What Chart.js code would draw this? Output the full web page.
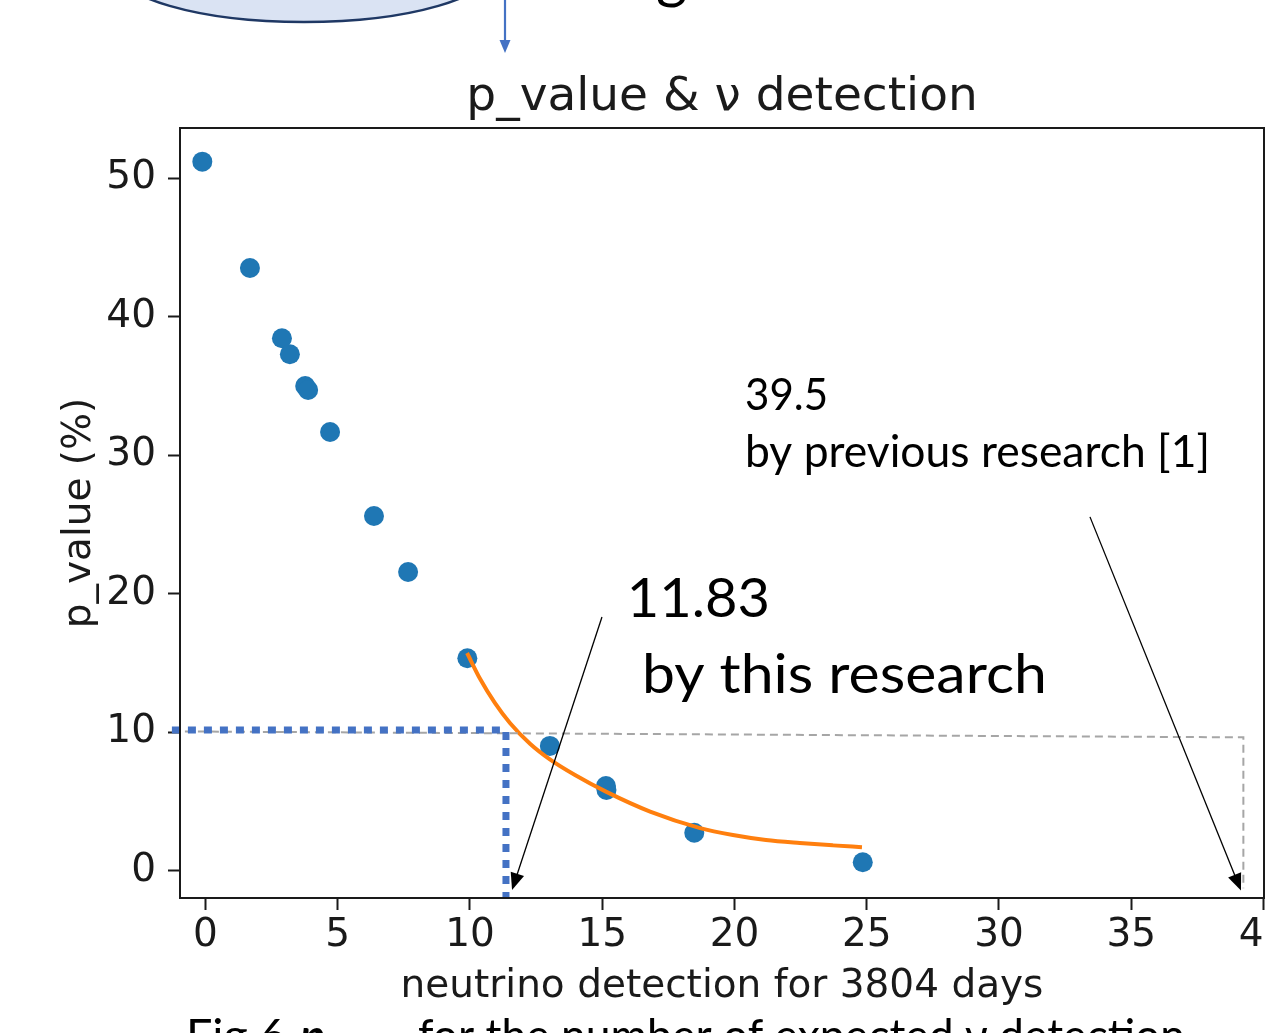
<!DOCTYPE html>
<html>
<head>
<meta charset="utf-8">
<script src="https://cdn.jsdelivr.net/npm/chart.js@4.4.1/dist/chart.umd.min.js"></script>
<style>
  html, body { margin: 0; padding: 0; background: #fff; overflow: hidden; }
</style>
</head>
<body>
<canvas id="pvalueChart" width="1266" height="1033"></canvas>
<script>
// measured points: expected neutrino detections vs p_value (%)
const detections = [-0.12, 1.68, 2.89, 3.19, 3.77, 3.88, 4.71, 6.37, 7.66, 9.90, 13.02, 15.14, 15.16, 18.48, 24.85];
const pValues = [51.2, 43.52, 38.45, 37.29, 35.0, 34.71, 31.68, 25.61, 21.57, 15.34, 9.01, 6.12, 5.83, 2.74, 0.61];

// fitted curve (orange)
const fitX = [9.89, 10.38, 10.94, 11.51, 12.27, 13.02, 13.97, 15.14, 16.81, 18.70, 19.94, 21.19, 22.47, 23.72, 24.82];
const fitY = [15.72, 13.86, 12.12, 10.67, 9.17, 8.04, 6.91, 5.71, 4.27, 3.08, 2.58, 2.22, 2.0, 1.83, 1.70];

// grey dashed guide (p = 10% across to 39.5 and down)
const guideX = [-1.27, 39.24, 39.24];
const guideY = [10.06, 9.63, -1.27];

// blue dotted guide drawn on the slide (11.83 result)
const resultX = [-1.27, 11.36, 11.36];
const resultY = [10.16, 10.16, -1.97];

const xTicks = [0, 5, 10, 15, 20, 25, 30, 35, 40];
const yTicks = [0, 10, 20, 30, 40, 50];

const AXIS_FONT = "'DejaVu Sans', sans-serif";
const NOTE_FONT = "Lato, 'Open Sans', sans-serif";
const INK = "#1a1a1a";

// slide annotations: anchor in data units, target width in px
const notes = [
  { text: "11.83", x: 15.93, y: 18.32, size: 54, width: 143 },
  { text: "by this research", x: 16.50, y: 12.83, size: 54, width: 405 },
  { text: "39.5", x: 20.40, y: 33.27, size: 45, width: 83 },
  { text: "by previous research [1]", x: 20.40, y: 29.15, size: 45, width: 465 }
];
const arrows = [
  { from: [14.99, 18.32], to: [11.59, -1.39] },
  { from: [33.44, 25.55], to: [39.15, -1.43] }
];

const pts = (xs, ys) => xs.map((x, i) => ({ x, y: ys[i] }));

function squeezeText(ctx, text, x, y, font, width) {
  ctx.save();
  ctx.font = font;
  const w = ctx.measureText(text).width;
  ctx.translate(x, y);
  if (width) ctx.scale(width / w, 1);
  ctx.fillText(text, 0, 0);
  ctx.restore();
}

function arrowHead(ctx, x0, y0, x1, y1, len, half) {
  const a = Math.atan2(y1 - y0, x1 - x0);
  ctx.beginPath();
  ctx.moveTo(x1, y1);
  ctx.lineTo(x1 - len * Math.cos(a) + half * Math.sin(a), y1 - len * Math.sin(a) - half * Math.cos(a));
  ctx.lineTo(x1 - len * Math.cos(a) - half * Math.sin(a), y1 - len * Math.sin(a) + half * Math.cos(a));
  ctx.closePath();
  ctx.fill();
}

const overlay = {
  id: "overlay",
  afterDatasetsDraw(chart) {
    const { ctx, scales: { x, y } } = chart;
    // thin black annotation arrows
    ctx.save();
    ctx.strokeStyle = "#000";
    ctx.fillStyle = "#000";
    ctx.lineWidth = 1.3;
    arrows.forEach(a => {
      const x0 = x.getPixelForValue(a.from[0]), y0 = y.getPixelForValue(a.from[1]);
      const x1 = x.getPixelForValue(a.to[0]), y1 = y.getPixelForValue(a.to[1]);
      const ang = Math.atan2(y1 - y0, x1 - x0);
      ctx.beginPath();
      ctx.moveTo(x0, y0);
      ctx.lineTo(x1 - 12 * Math.cos(ang), y1 - 12 * Math.sin(ang));
      ctx.stroke();
      arrowHead(ctx, x0, y0, x1, y1, 17, 7);
    });
    // annotation texts
    ctx.textBaseline = "alphabetic";
    ctx.textAlign = "left";
    notes.forEach(n => {
      squeezeText(ctx, n.text, x.getPixelForValue(n.x), y.getPixelForValue(n.y), n.size + "px " + NOTE_FONT, n.width);
    });
    ctx.restore();
  },
  afterDraw(chart) {
    const { ctx, chartArea: ca } = chart;
    ctx.save();
    // axes frame
    ctx.strokeStyle = INK;
    ctx.lineWidth = 2;
    ctx.strokeRect(ca.left, ca.top, ca.right - ca.left, ca.bottom - ca.top);

    // title
    ctx.fillStyle = INK;
    ctx.font = "47px " + AXIS_FONT;
    ctx.textAlign = "center";
    ctx.textBaseline = "alphabetic";
    ctx.fillText("p_value & \u03bd detection", (ca.left + ca.right) / 2, 110);

    // slide pieces above the chart: ellipse, connector arrow, cut word
    ctx.beginPath();
    ctx.ellipse(304, -33, 190, 55, 0, 0, Math.PI * 2);
    ctx.fillStyle = "#dae3f3";
    ctx.fill();
    ctx.strokeStyle = "#1f3864";
    ctx.lineWidth = 2.5;
    ctx.stroke();

    ctx.strokeStyle = "#4472c4";
    ctx.fillStyle = "#4472c4";
    ctx.lineWidth = 2.2;
    ctx.beginPath();
    ctx.moveTo(505, 0);
    ctx.lineTo(505, 42);
    ctx.stroke();
    arrowHead(ctx, 505, 0, 505, 53, 13, 5.5);

    ctx.fillStyle = "#000";
    ctx.textAlign = "left";
    ctx.font = "60px " + NOTE_FONT;
    ctx.fillText("g", 656, -3);

    // figure caption, cut by the bottom edge
    const capBase = 1052;
    squeezeText(ctx, "Fig.6", 186, capBase, "46px " + NOTE_FONT, 100);
    squeezeText(ctx, "p", 300, capBase, "italic bold 46px " + NOTE_FONT, 0);
    squeezeText(ctx, "value", 324, capBase + 12, "30px " + NOTE_FONT, 0);
    squeezeText(ctx, "for the number of expected \u03bd detection", 418, capBase, "46px " + NOTE_FONT, 767);
    ctx.restore();
  }
};

const axisFont = { family: AXIS_FONT, size: 39 };

new Chart(document.getElementById("pvalueChart"), {
  type: "scatter",
  data: {
    datasets: [
      {
        label: "p_value",
        data: pts(detections, pValues),
        backgroundColor: "#1f77b4",
        pointRadius: 10,
        pointBorderWidth: 0,
        order: 3
      },
      {
        type: "line",
        label: "fit",
        data: pts(fitX, fitY),
        borderColor: "#ff7f0e",
        borderWidth: 4,
        pointRadius: 0,
        cubicInterpolationMode: "monotone",
        order: 2
      },
      {
        type: "line",
        label: "10% guide",
        data: pts(guideX, guideY),
        borderColor: "#a6a6a6",
        borderWidth: 2,
        borderDash: [8, 5],
        pointRadius: 0,
        tension: 0,
        clip: false,
        order: 1
      },
      {
        type: "line",
        label: "this research",
        data: pts(resultX, resultY),
        borderColor: "#4472c4",
        borderWidth: 7,
        borderDash: [8, 8],
        borderCapStyle: "butt",
        pointRadius: 0,
        tension: 0,
        clip: false,
        order: 0
      }
    ]
  },
  options: {
    responsive: false,
    animation: false,
    events: [],
    layout: { autoPadding: false, padding: { top: 128, right: 2, left: 0, bottom: 0 } },
    plugins: {
      legend: { display: false },
      tooltip: { enabled: false },
      title: { display: false }
    },
    scales: {
      x: {
        type: "linear",
        min: -0.964,
        max: 40.02,
        afterBuildTicks: s => { s.ticks = xTicks.map(v => ({ value: v })); },
        afterFit: s => { s.height = 135; s.paddingLeft = 0; s.paddingRight = 0; },
        ticks: { font: axisFont, color: INK, padding: 2, autoSkip: false, maxRotation: 0 },
        grid: { drawOnChartArea: false, tickLength: 12, tickColor: INK, tickWidth: 2 },
        border: { display: false },
        title: {
          display: true,
          text: "neutrino detection for 3804 days",
          font: axisFont,
          color: INK,
          padding: { top: 0, bottom: 23 }
        }
      },
      y: {
        type: "linear",
        min: -1.97,
        max: 53.63,
        afterBuildTicks: s => { s.ticks = yTicks.map(v => ({ value: v })); },
        afterFit: s => { s.width = 180; s.paddingTop = 0; s.paddingBottom = 0; },
        ticks: { font: axisFont, color: INK, padding: 12, autoSkip: false },
        grid: { drawOnChartArea: false, tickLength: 12, tickColor: INK, tickWidth: 2 },
        border: { display: false },
        title: {
          display: true,
          text: "p_value (%)",
          font: axisFont,
          color: INK,
          padding: { top: 56, bottom: 0 }
        }
      }
    }
  },
  plugins: [overlay]
});
</script>
</body>
</html>
